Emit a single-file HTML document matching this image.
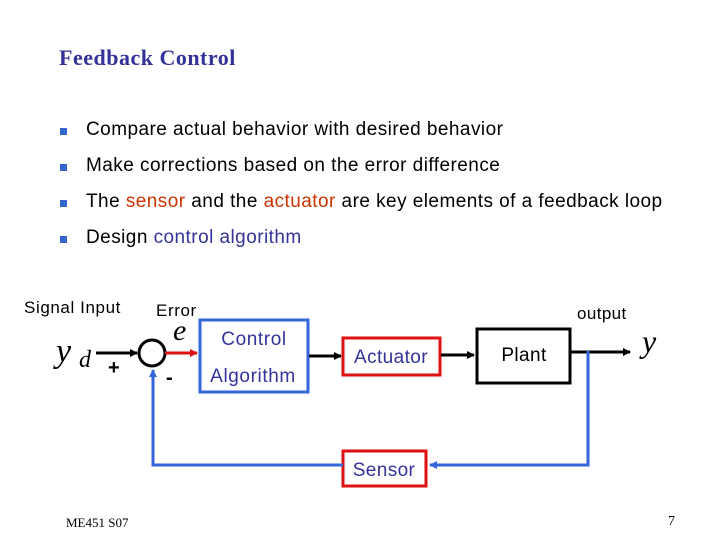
<!DOCTYPE html>
<html><head><style>
body{margin:0;width:720px;height:540px;background:#fff;position:relative;overflow:hidden;font-family:"Liberation Sans",sans-serif}
.t{position:absolute;white-space:nowrap}
.b{font-size:19px;letter-spacing:0.45px;color:#000}
.sq{position:absolute;width:7px;height:7px;background:#3366cc}
.red{color:#cc3300}.blu{color:#333399}
</style></head><body>
<div class="t" style="left:59px;top:45px;font:bold 22px 'Liberation Serif',serif;letter-spacing:0.5px;color:#333399">Feedback Control</div>
<div class="sq" style="left:60px;top:128px"></div><div class="t b" style="left:86px;top:119px">Compare actual behavior with desired behavior</div>
<div class="sq" style="left:60px;top:164px"></div><div class="t b" style="left:86px;top:155px">Make corrections based on the error difference</div>
<div class="sq" style="left:60px;top:200px"></div><div class="t b" style="left:86px;top:191px">The <span class="red">sensor</span> and the <span class="red">actuator</span> are key elements of a feedback loop</div>
<div class="sq" style="left:60px;top:236px"></div><div class="t b" style="left:86px;top:227px">Design <span class="blu">control algorithm</span></div>
<svg width="720" height="540" style="position:absolute;left:0;top:0" font-family="Liberation Sans,sans-serif">
<defs>
<marker id="ak" markerWidth="8" markerHeight="8" refX="7" refY="4" orient="auto" markerUnits="userSpaceOnUse"><path d="M0,0L8,4L0,8z" fill="#000"/></marker>
<marker id="ar" markerWidth="8" markerHeight="8" refX="7" refY="4" orient="auto" markerUnits="userSpaceOnUse"><path d="M0,0L8,4L0,8z" fill="#dd1111"/></marker>
<marker id="ab" markerWidth="8" markerHeight="8" refX="7" refY="4" orient="auto" markerUnits="userSpaceOnUse"><path d="M0,0L8,4L0,8z" fill="#3366dd"/></marker>
</defs>
<text x="24" y="313" font-size="17" letter-spacing="0.6">Signal Input</text>
<text x="156" y="316" font-size="17" letter-spacing="0.6">Error</text>
<text x="577" y="319" font-size="17" letter-spacing="0.4">output</text>
<text x="56" y="362" font-size="34" font-style="italic" font-family="Liberation Serif,serif">y</text>
<text x="79" y="367" font-size="24" font-style="italic" font-family="Liberation Serif,serif">d</text>
<text x="173" y="340" font-size="30" font-style="italic" font-family="Liberation Serif,serif">e</text>
<text x="642" y="352" font-size="32" font-style="italic" font-family="Liberation Serif,serif">y</text>
<text x="108" y="374" font-size="20" font-weight="bold">+</text>
<text x="166" y="384" font-size="20" font-weight="bold">-</text>
<line x1="96" y1="353" x2="137" y2="353" stroke="#000" stroke-width="3" marker-end="url(#ak)"/>
<circle cx="152" cy="353" r="13" fill="#fff" stroke="#000" stroke-width="3"/>
<line x1="165" y1="353" x2="197" y2="353" stroke="#dd1111" stroke-width="3" marker-end="url(#ar)"/>
<rect x="200" y="320" width="108" height="72" fill="#fff" stroke="#3366dd" stroke-width="3"/>
<text x="254" y="345" font-size="19" letter-spacing="0.6" text-anchor="middle" fill="#333399">Control</text>
<text x="253" y="382" font-size="19" letter-spacing="0.6" text-anchor="middle" fill="#333399">Algorithm</text>
<line x1="309" y1="356" x2="341" y2="356" stroke="#000" stroke-width="3" marker-end="url(#ak)"/>
<rect x="343" y="338" width="97" height="37" fill="#fff" stroke="#dd1111" stroke-width="3"/>
<text x="391" y="363" font-size="19" letter-spacing="0.4" text-anchor="middle" fill="#333399">Actuator</text>
<line x1="441" y1="355" x2="474" y2="355" stroke="#000" stroke-width="3" marker-end="url(#ak)"/>
<rect x="477" y="329" width="93" height="54" fill="#fff" stroke="#000" stroke-width="3"/>
<text x="524" y="361" font-size="19" letter-spacing="0.4" text-anchor="middle">Plant</text>
<line x1="571" y1="352" x2="630" y2="352" stroke="#000" stroke-width="3" marker-end="url(#ak)"/>
<polyline points="588,351 588,465 430,465" fill="none" stroke="#3366dd" stroke-width="3" marker-end="url(#ab)"/>
<rect x="343" y="451" width="83" height="35" fill="#fff" stroke="#dd1111" stroke-width="3"/>
<text x="384" y="476" font-size="19" letter-spacing="0.4" text-anchor="middle" fill="#333399">Sensor</text>
<polyline points="343,465 153,465 153,370" fill="none" stroke="#3366dd" stroke-width="3" marker-end="url(#ab)"/>
<text x="66" y="527" font-size="13" font-family="Liberation Serif,serif">ME451 S07</text>
<text x="668" y="525" font-size="14" font-family="Liberation Serif,serif">7</text>
</svg>
</body></html>
